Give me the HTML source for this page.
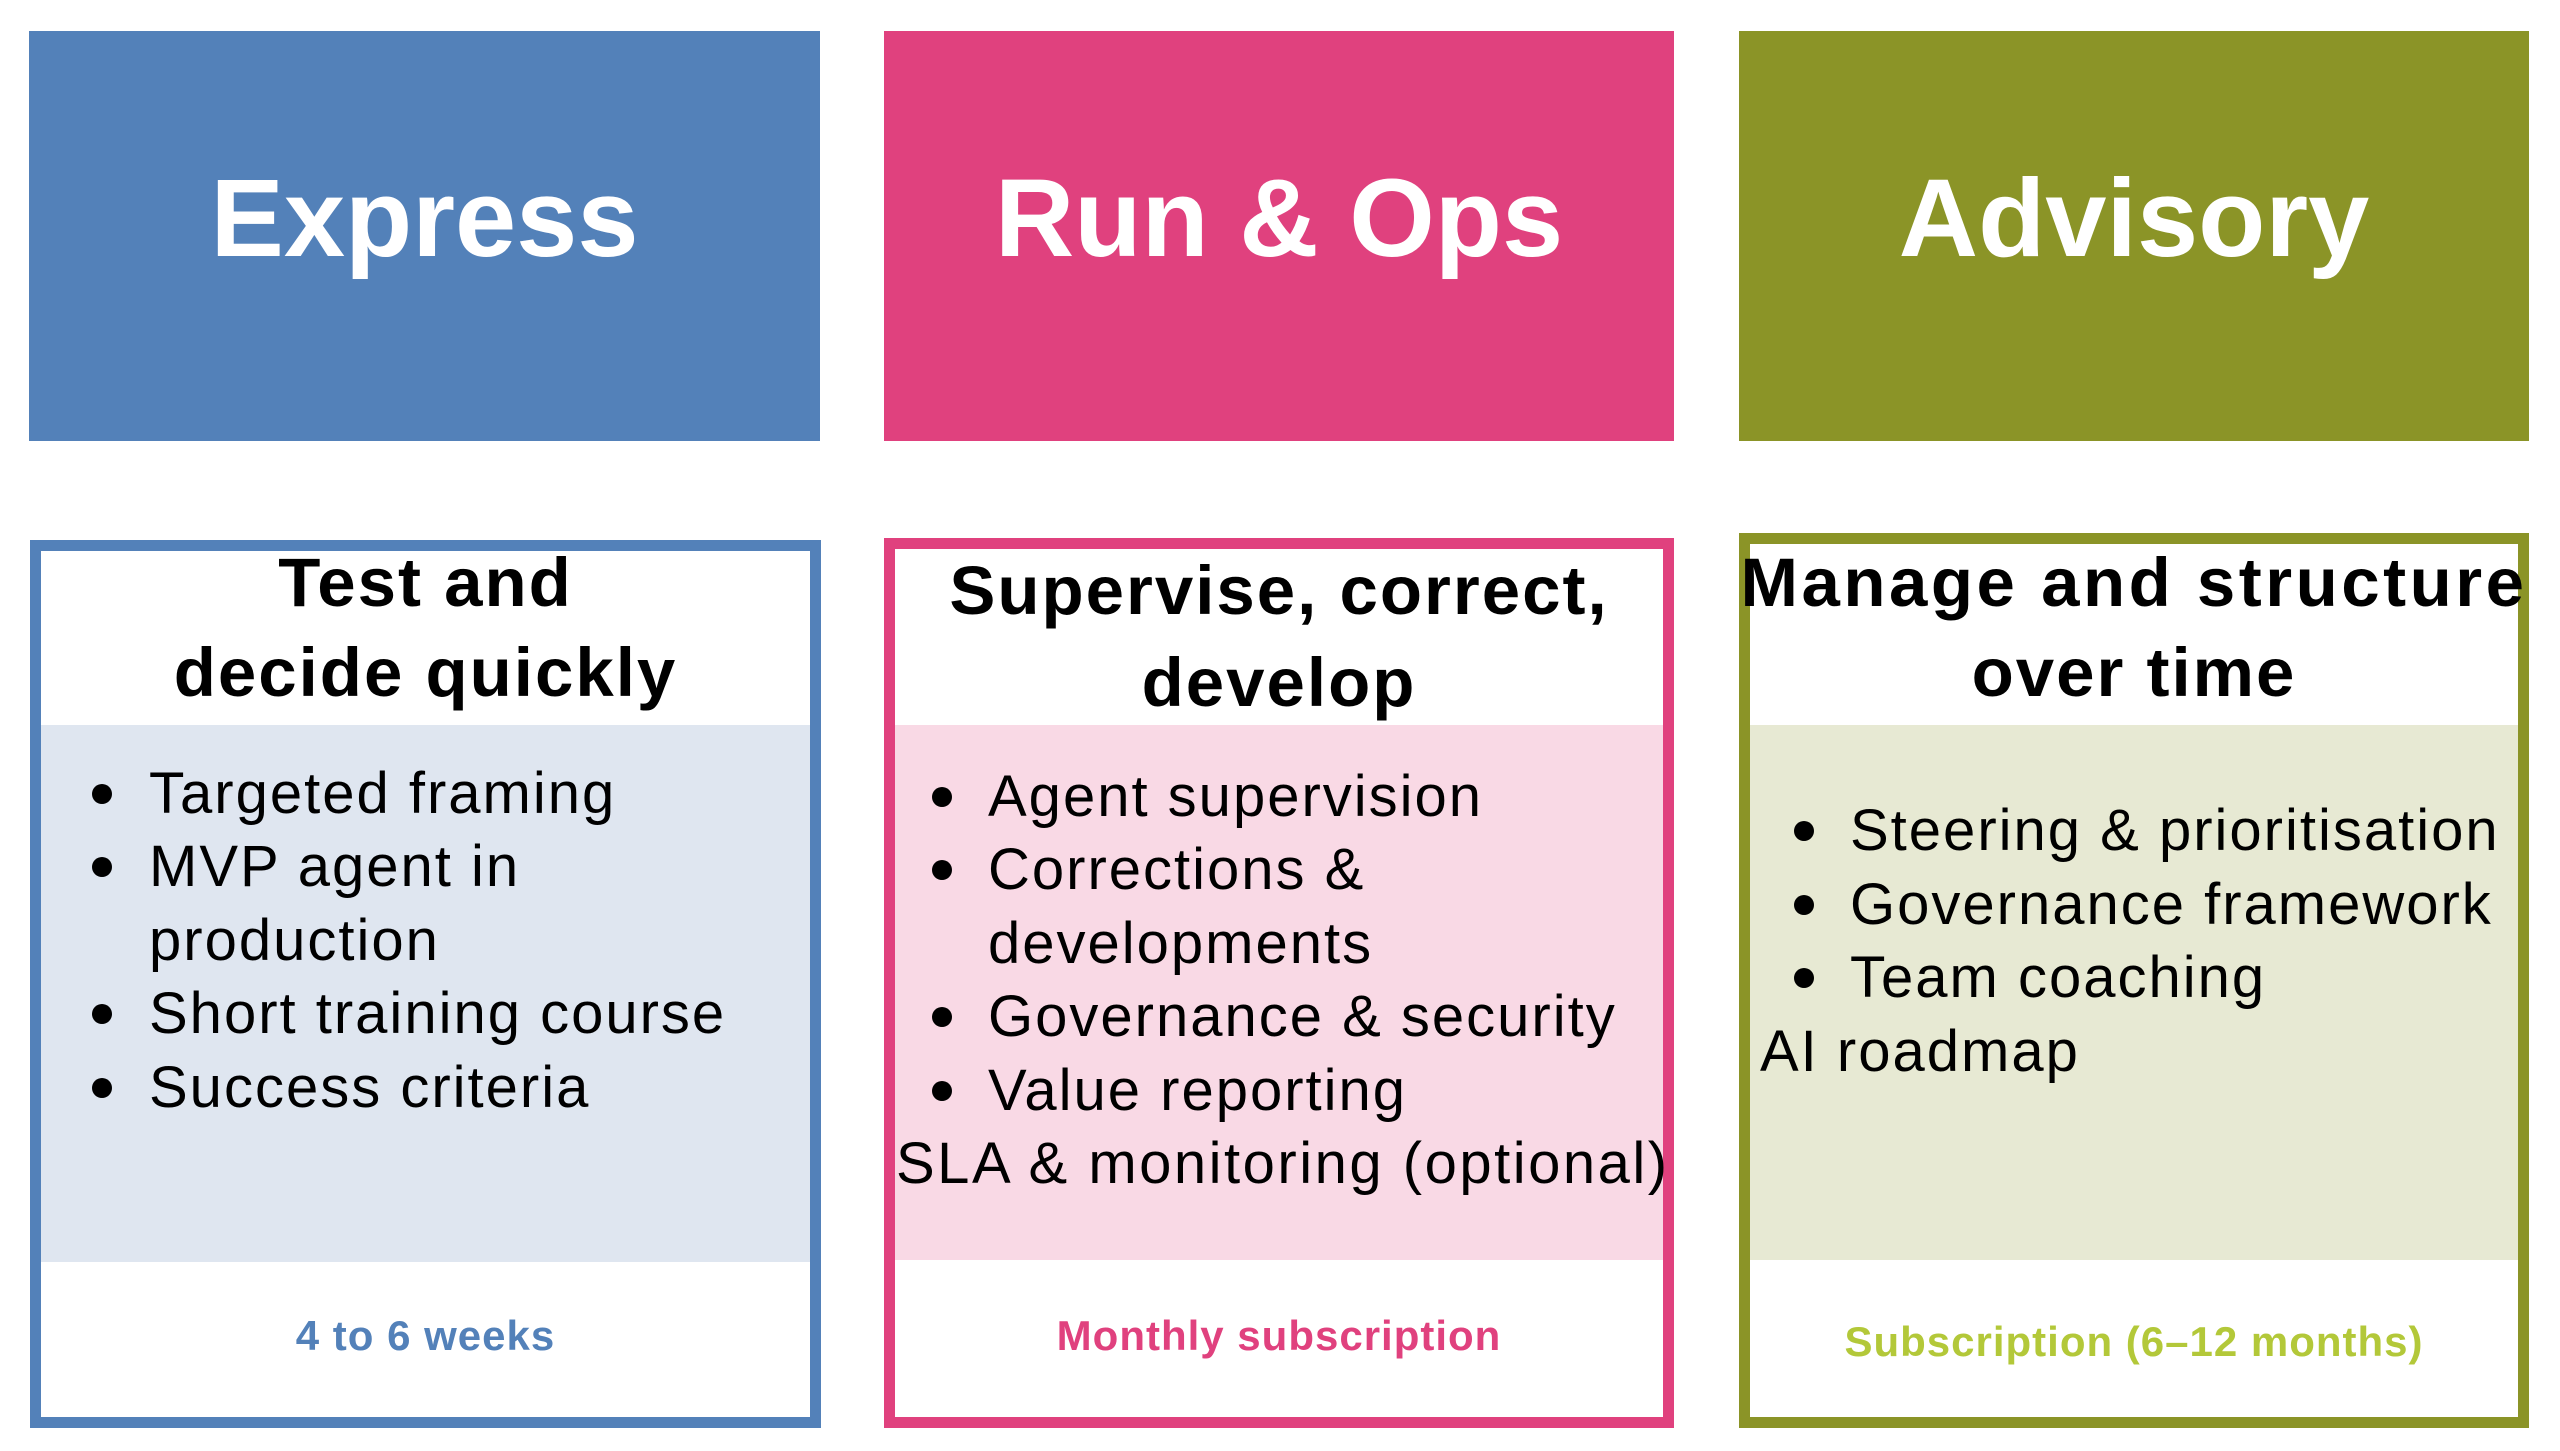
<!DOCTYPE html>
<html><head><meta charset="utf-8"><style>
html,body{margin:0;padding:0;width:2560px;height:1451px;background:#fff;overflow:hidden;font-family:"Liberation Sans",sans-serif}
.a{position:absolute}
.hd{color:#fff;font-weight:bold;font-size:110px;text-align:center;line-height:130px}
.box{position:absolute;box-sizing:border-box;border:11px solid}
.t{position:absolute;white-space:nowrap;line-height:80px;font-size:58px;letter-spacing:2px;color:#000}
.st{position:absolute;white-space:nowrap;text-align:center;font-weight:bold;font-size:69px;line-height:90px;letter-spacing:2px;color:#000}
.b{position:absolute;width:20px;height:20px;border-radius:50%;background:#000}
.ft{position:absolute;text-align:center;font-weight:bold;font-size:42px;line-height:60px;letter-spacing:1px}
</style></head><body>
<div class="a hd" style="left:29px;top:31px;width:791px;height:410px;background:#5381b9;line-height:410px"><span style="position:relative;top:-17px">Express</span></div>
<div class="a hd" style="left:884px;top:31px;width:790px;height:410px;background:#e0417e;line-height:410px"><span style="position:relative;top:-17px">Run &amp; Ops</span></div>
<div class="a hd" style="left:1739px;top:31px;width:790px;height:410px;background:#8b9427;line-height:410px"><span style="position:relative;top:-17px">Advisory</span></div>

<!-- Express -->
<div class="box" style="left:30px;top:540px;width:791px;height:888px;border-color:#5381b9"></div>
<div class="a" style="left:41px;top:725px;width:769px;height:537px;background:#dfe6f0"></div>
<div class="st" style="left:41px;width:769px;top:538px">Test and</div>
<div class="st" style="left:41px;width:769px;top:628px">decide quickly</div>
<div class="b" style="left:92px;top:784px"></div><div class="t" style="left:149px;top:754px">Targeted framing</div>
<div class="b" style="left:92px;top:857px"></div><div class="t" style="left:149px;top:827px">MVP agent in</div>
<div class="t" style="left:149px;top:901px">production</div>
<div class="b" style="left:92px;top:1004px"></div><div class="t" style="left:149px;top:974px">Short training course</div>
<div class="b" style="left:92px;top:1078px"></div><div class="t" style="left:149px;top:1048px">Success criteria</div>
<div class="ft" style="left:41px;width:769px;top:1306px;color:#5381b9">4 to 6 weeks</div>

<!-- Run & Ops -->
<div class="box" style="left:884px;top:538px;width:790px;height:890px;border-color:#e0417e"></div>
<div class="a" style="left:895px;top:725px;width:768px;height:535px;background:#f9d9e5"></div>
<div class="st" style="left:895px;width:768px;top:546px">Supervise, correct,</div>
<div class="st" style="left:895px;width:768px;top:638px">develop</div>
<div class="b" style="left:932px;top:787px"></div><div class="t" style="left:988px;top:757px">Agent supervision</div>
<div class="b" style="left:932px;top:860px"></div><div class="t" style="left:988px;top:830px">Corrections &amp;</div>
<div class="t" style="left:988px;top:904px">developments</div>
<div class="b" style="left:932px;top:1007px"></div><div class="t" style="left:988px;top:977px">Governance &amp; security</div>
<div class="b" style="left:932px;top:1081px"></div><div class="t" style="left:988px;top:1051px">Value reporting</div>
<div class="t" style="left:896px;top:1124px;letter-spacing:2.5px">SLA &amp; monitoring (optional)</div>
<div class="ft" style="left:895px;width:768px;top:1306px;color:#e0417e">Monthly subscription</div>

<!-- Advisory -->
<div class="box" style="left:1739px;top:533px;width:790px;height:895px;border-color:#8b9427"></div>
<div class="a" style="left:1750px;top:725px;width:768px;height:535px;background:#e7e9d3"></div>
<div class="st" style="left:1740px;width:788px;top:538px;letter-spacing:3.5px">Manage and structure</div>
<div class="st" style="left:1740px;width:788px;top:628px">over time</div>
<div class="b" style="left:1794px;top:821px"></div><div class="t" style="left:1850px;top:791px">Steering &amp; prioritisation</div>
<div class="b" style="left:1794px;top:895px"></div><div class="t" style="left:1850px;top:865px">Governance framework</div>
<div class="b" style="left:1794px;top:968px"></div><div class="t" style="left:1850px;top:938px">Team coaching</div>
<div class="t" style="left:1760px;top:1012px">AI roadmap</div>
<div class="ft" style="left:1750px;width:768px;top:1312px;color:#b3c839">Subscription (6–12 months)</div>
</body></html>
